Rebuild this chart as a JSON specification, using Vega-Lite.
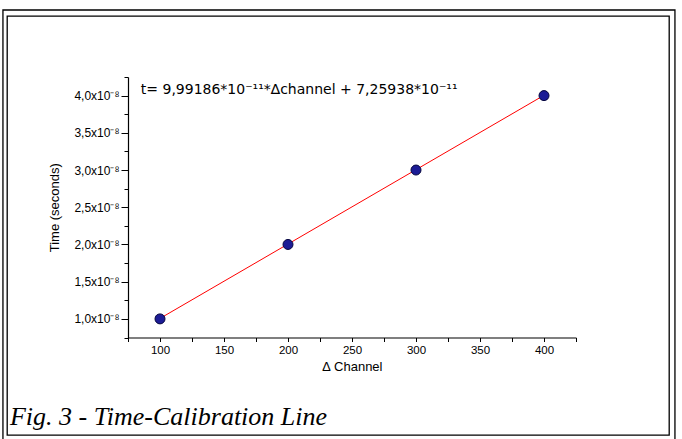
{
  "$schema": "https://vega.github.io/schema/vega-lite/v6.json",
  "width": 662,
  "height": 419,
  "autosize": "none",
  "padding": {"left": 7, "top": 16, "right": 13, "bottom": 4},
  "background": "white",
  "config": {
    "view": {"stroke": "black", "strokeWidth": 1.3},
    "font": "Liberation Sans"
  },
  "resolve": {"axis": {"x": "independent", "y": "independent"}},
  "datasets": {
    "points": [
      {"channel": 100, "time": 1.0e-8},
      {"channel": 200, "time": 2.0e-8},
      {"channel": 300, "time": 3.0e-8},
      {"channel": 400, "time": 4.0e-8}
    ],
    "fit": [
      {"channel": 100, "time": 1.00645e-8},
      {"channel": 400, "time": 4.0040e-8}
    ],
    "notes": [
      {"id": 1}
    ]
  },
  "layer": [
    {
      "data": {"name": "fit"},
      "mark": {"type": "line", "color": "#ff0000", "strokeWidth": 1},
      "encoding": {
        "x": {
          "field": "channel",
          "type": "quantitative",
          "scale": {"domain": [75, 425], "range": [121, 569], "nice": false, "zero": false},
          "axis": {
            "orient": "bottom",
            "offset": -97.5,
            "title": "∆ Channel",
            "titleFont": "Liberation Sans",
            "titleFontSize": 13,
            "titleFontWeight": "normal",
            "titleColor": "black",
            "titlePadding": 4,
            "values": [75, 100, 125, 150, 175, 200, 225, 250, 275, 300, 325, 350, 375, 400, 425],
            "labelExpr": "(datum.value % 50 == 0 && datum.value >= 100 && datum.value <= 400) ? datum.label : ''",
            "labelFont": "Liberation Sans",
            "labelFontSize": 11.5,
            "labelColor": "black",
            "labelPadding": 3,
            "labelFlush": false,
            "labelOverlap": false,
            "tickSize": 4,
            "tickColor": "black",
            "domainColor": "black",
            "domainWidth": 1.2,
            "grid": false
          }
        },
        "y": {
          "field": "time",
          "type": "quantitative",
          "scale": {"domain": [0.75e-8, 4.25e-8], "range": [321.5, 61], "nice": false, "zero": false},
          "axis": {
            "orient": "left",
            "offset": -121,
            "title": "Time (seconds)",
            "titleFont": "Liberation Sans Narrow, Liberation Sans",
            "titleFontSize": 13,
            "titleFontWeight": "normal",
            "titleColor": "black",
            "titlePadding": 12,
            "values": [0.75e-8, 1.0e-8, 1.25e-8, 1.5e-8, 1.75e-8, 2.0e-8, 2.25e-8, 2.5e-8, 2.75e-8, 3.0e-8, 3.25e-8, 3.5e-8, 3.75e-8, 4.0e-8, 4.25e-8],
            "labelExpr": "abs(datum.value*2e8 - round(datum.value*2e8)) < 0.01 ? replace(format(datum.value*1e8, '.1f'), '.', ',') + 'x10⁻⁸' : ''",
            "labelFont": "Liberation Sans",
            "labelFontSize": 12,
            "labelColor": "black",
            "labelPadding": 2,
            "labelFlush": false,
            "labelOverlap": false,
            "tickSize": {"condition": {"test": "abs(datum.value*2e8 - round(datum.value*2e8)) < 0.01", "value": 7}, "value": 4},
            "tickColor": "black",
            "domainColor": "black",
            "domainWidth": 1.2,
            "grid": false
          }
        }
      }
    },
    {
      "data": {"name": "points"},
      "mark": {"type": "point", "shape": "circle", "filled": true, "size": 100, "color": "#1c1c96", "stroke": "#06063f", "strokeWidth": 1, "opacity": 1},
      "encoding": {
        "x": {"field": "channel", "type": "quantitative", "axis": null},
        "y": {"field": "time", "type": "quantitative", "axis": null}
      }
    },
    {
      "data": {"name": "notes"},
      "mark": {"type": "text", "align": "left", "baseline": "middle", "fontSize": 14, "font": "DejaVu Sans", "color": "black", "clip": false},
      "encoding": {
        "x": {"datum": 85, "type": "quantitative", "axis": null},
        "y": {"datum": 4.08e-8, "type": "quantitative", "axis": null},
        "text": {"value": "t= 9,99186*10⁻¹¹*∆channel + 7,25938*10⁻¹¹"}
      }
    },
    {
      "data": {"name": "notes"},
      "mark": {"type": "text", "align": "left", "baseline": "alphabetic", "fontSize": 26, "font": "Liberation Serif", "fontStyle": "italic", "color": "black", "clip": false},
      "encoding": {
        "x": {"datum": -17.2, "type": "quantitative", "axis": null},
        "y": {"datum": -0.42e-8, "type": "quantitative", "axis": null},
        "text": {"value": "Fig. 3 - Time-Calibration Line"}
      }
    },
    {
      "data": {"name": "notes"},
      "mark": {"type": "rect", "fill": "transparent", "stroke": "black", "strokeWidth": 1.3, "clip": false},
      "encoding": {
        "x": {"datum": -22.7, "type": "quantitative", "axis": null},
        "x2": {"datum": 502.3},
        "y": {"datum": 5.15e-8, "type": "quantitative", "axis": null},
        "y2": {"datum": -0.75e-8}
      }
    }
  ]
}
